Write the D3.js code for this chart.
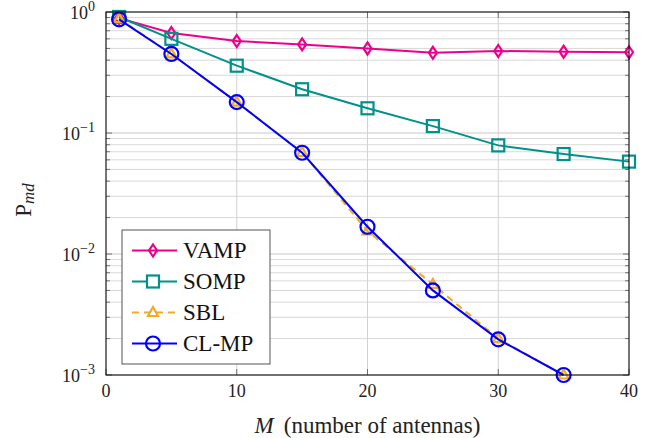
<!DOCTYPE html>
<html>
<head>
<meta charset="utf-8">
<script src="https://cdn.jsdelivr.net/npm/d3@7"></script>
<style>
  body { margin: 0; background: #fff; }
  text { font-family: "Liberation Serif", "DejaVu Serif", serif; }
</style>
</head>
<body>
<div id="chart"></div>
<script>
'use strict';

var antennas = [1, 5, 10, 15, 20, 25, 30, 35, 40];
var vamp = [0.89, 0.67, 0.575, 0.54, 0.50, 0.46, 0.476, 0.47, 0.465];
var somp = [0.91, 0.60, 0.36, 0.23, 0.16, 0.114, 0.079, 0.067, 0.058];
var sbl = [0.88, 0.45, 0.18, 0.069, 0.0155, 0.0056, 0.002, 0.001];
var clmp = [0.87, 0.45, 0.18, 0.0687, 0.0168, 0.005, 0.00197, 0.001];
var xTicks = [0, 10, 20, 30, 40];
var yTicks = [1e-3, 1e-2, 1e-1, 1];
var yExps = [-3, -2, -1, 0];

var series = [
	{ name: 'VAMP', values: vamp, color: '#ec008c', marker: 'diamond', dash: null },
	{ name: 'SOMP', values: somp, color: '#00918a', marker: 'square', dash: null },
	{ name: 'SBL', values: sbl, color: '#f0ac22', marker: 'triangle', dash: '7,5' },
	{ name: 'CL-MP', values: clmp, color: '#0000ff', marker: 'circle', dash: null }
];

var W = 665, H = 438;
var margin = { top: 12, right: 36, bottom: 63, left: 106 };
var width = W - margin.left - margin.right;
var height = H - margin.top - margin.bottom;

var svg = d3.select('#chart').append('svg')
	.attr('width', W)
	.attr('height', H);

var g = svg.append('g')
	.attr('transform', 'translate(' + margin.left + ',' + margin.top + ')');

var x = d3.scaleLinear().domain([0, 40]).range([0, width]);
var y = d3.scaleLog().domain([1e-3, 1]).range([height, 0]);

// minor values 2..9 per decade
var minor = [];
[1e-3, 1e-2, 1e-1].forEach(function(d){
	for (var k = 2; k <= 9; k++) minor.push(d * k);
});

// grid
g.append('g').selectAll('line.minor')
	.data(minor).enter().append('line')
	.attr('x1', 0).attr('x2', width)
	.attr('y1', function(d){ return y(d); })
	.attr('y2', function(d){ return y(d); })
	.attr('stroke', '#d9d9d9').attr('stroke-width', 1);

g.append('g').selectAll('line.majy')
	.data(yTicks).enter().append('line')
	.attr('x1', 0).attr('x2', width)
	.attr('y1', function(d){ return y(d); })
	.attr('y2', function(d){ return y(d); })
	.attr('stroke', '#c8c8c8').attr('stroke-width', 1);

g.append('g').selectAll('line.majx')
	.data(xTicks).enter().append('line')
	.attr('y1', 0).attr('y2', height)
	.attr('x1', function(d){ return x(d); })
	.attr('x2', function(d){ return x(d); })
	.attr('stroke', '#d2d2d2').attr('stroke-width', 1);

// ticks (inside, all four sides)
var tickG = g.append('g').attr('stroke', '#555').attr('stroke-width', 0.8);
minor.forEach(function(d){
	tickG.append('line').attr('x1', 0).attr('x2', 4).attr('y1', y(d)).attr('y2', y(d));
	tickG.append('line').attr('x1', width - 4).attr('x2', width).attr('y1', y(d)).attr('y2', y(d));
});
yTicks.forEach(function(d){
	tickG.append('line').attr('x1', 0).attr('x2', 6).attr('y1', y(d)).attr('y2', y(d));
	tickG.append('line').attr('x1', width - 6).attr('x2', width).attr('y1', y(d)).attr('y2', y(d));
});
xTicks.forEach(function(d){
	tickG.append('line').attr('x1', x(d)).attr('x2', x(d)).attr('y1', height).attr('y2', height - 6);
	tickG.append('line').attr('x1', x(d)).attr('x2', x(d)).attr('y1', 0).attr('y2', 6);
});

// lines
var line = d3.line()
	.x(function(d, i){ return x(antennas[i]); })
	.y(function(d){ return y(d); });

var symbols = {
	diamond: function(sel){
		sel.append('path').attr('d', 'M0,-6L4,0L0,6L-4,0Z');
	},
	square: function(sel){
		sel.append('rect').attr('x', -6).attr('y', -6).attr('width', 12).attr('height', 12);
	},
	triangle: function(sel){
		sel.append('path').attr('d', 'M0,-5.5L5,3.5L-5,3.5Z');
	},
	circle: function(sel){
		sel.append('circle').attr('r', 7);
	}
};

series.forEach(function(s){
	var sg = g.append('g');
	sg.append('path')
		.datum(s.values)
		.attr('fill', 'none')
		.attr('stroke', s.color)
		.attr('stroke-width', 2)
		.attr('stroke-dasharray', s.dash)
		.attr('d', line);
	sg.selectAll('g.m')
		.data(s.values).enter().append('g')
		.attr('transform', function(d, i){ return 'translate(' + x(antennas[i]) + ',' + y(d) + ')'; })
		.attr('fill', 'none')
		.attr('stroke', s.color)
		.attr('stroke-width', 2.2)
		.each(function(){ symbols[s.marker](d3.select(this)); });
});

// frame
g.append('rect')
	.attr('width', width).attr('height', height)
	.attr('fill', 'none').attr('stroke', '#000').attr('stroke-width', 1);

// tick labels
g.append('g').selectAll('text')
	.data(xTicks).enter().append('text')
	.attr('x', function(d){ return x(d); })
	.attr('y', height + 22)
	.attr('text-anchor', 'middle')
	.attr('font-size', 18)
	.attr('fill', '#222')
	.text(function(d){ return d; });

var yl = g.append('g').selectAll('text')
	.data(yTicks).enter().append('text')
	.attr('x', -11)
	.attr('y', function(d){ return y(d) + 7; })
	.attr('text-anchor', 'end')
	.attr('font-size', 18)
	.attr('fill', '#222');
yl.append('tspan').text('10');
yl.append('tspan')
	.attr('dy', -8)
	.attr('font-size', 14)
	.text(function(d, i){ return yExps[i] < 0 ? '\u2212' + (-yExps[i]) : yExps[i]; });

// axis labels
var xl = svg.append('text')
	.attr('x', margin.left + width / 2)
	.attr('y', H - 5)
	.attr('text-anchor', 'middle')
	.attr('font-size', 23)
	.attr('fill', '#222');
xl.append('tspan').attr('font-style', 'italic').text('M');
xl.append('tspan').attr('dx', 10).text('(number of antennas)');

var ylab = svg.append('text')
	.attr('transform', 'translate(31,200) rotate(-90)')
	.attr('text-anchor', 'middle')
	.attr('font-size', 23)
	.attr('fill', '#222');
ylab.append('tspan').text('P');
ylab.append('tspan').attr('font-style', 'italic').attr('font-size', 17).attr('dy', 3).text('md');

// legend
var lg = g.append('g').attr('transform', 'translate(16,218)');
lg.append('rect')
	.attr('width', 148).attr('height', 134)
	.attr('fill', '#fff').attr('stroke', '#555').attr('stroke-width', 1);

series.forEach(function(s, i){
	var row = lg.append('g').attr('transform', 'translate(0,' + (20.5 + i * 31) + ')');
	row.append('line')
		.attr('x1', 10).attr('x2', 55)
		.attr('stroke', s.color).attr('stroke-width', 2)
		.attr('stroke-dasharray', s.dash);
	var m = row.append('g')
		.attr('transform', 'translate(31,0)')
		.attr('fill', s.marker === 'square' || s.marker === 'triangle' ? '#fff' : 'none')
		.attr('stroke', s.color).attr('stroke-width', 2.2);
	symbols[s.marker](m);
	row.append('text')
		.attr('x', 61).attr('y', 7.5)
		.attr('font-size', 23)
		.attr('fill', '#111')
		.text(s.name);
});
</script>
</body>
</html>
